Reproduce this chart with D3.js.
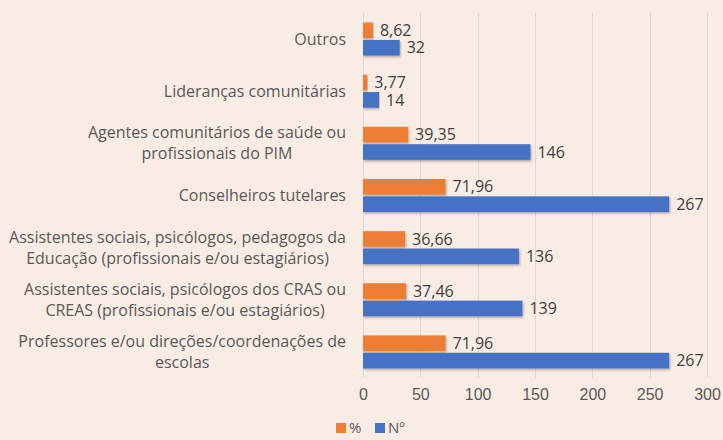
<!DOCTYPE html>
<html>
<head>
<meta charset="utf-8">
<script src="https://cdn.jsdelivr.net/npm/d3@7"></script>
<style>
    body { margin: 0; background: #f9ece4; }
    svg { display: block; font-family: "Open Sans", "Noto Sans", sans-serif; }
    .grid line { stroke: #e2d8d2; stroke-width: 1; }
    .axis text { fill: #595959; font-size: 16px; }
    .cat { fill: #595959; font-size: 16px; }
    .val { fill: #404040; font-size: 16px; }
</style>
</head>
<body>
<div class="barchart"></div>
<script>
// Categories (top to bottom) with their lines as wrapped in the original
const categories = [
    ["Outros"],
    ["Lideranças comunitárias"],
    ["Agentes comunitários de saúde ou", "profissionais do PIM"],
    ["Conselheiros tutelares"],
    ["Assistentes sociais, psicólogos, pedagogos da", "Educação (profissionais e/ou estagiários)"],
    ["Assistentes sociais, psicólogos dos CRAS ou", "CREAS (profissionais e/ou estagiários)"],
    ["Professores e/ou direções/coordenações de", "escolas"]
];
const pctValues = [8.62, 3.77, 39.35, 71.96, 36.66, 37.46, 71.96];
const numValues = [32, 14, 146, 267, 136, 139, 267];
const xTicks = [0, 50, 100, 150, 200, 250, 300];
const seriesNames = ["%", "Nº"];
const seriesColors = ["#ed7d31", "#4472c4"];

const width = 723, height = 440;
const margin = {top: 13, right: 16, bottom: 65, left: 363};

const svg = d3.select(".barchart")
    .append("svg")
    .attr("width", width)
    .attr("height", height);

// Slight shadow like the spreadsheet bars
const defs = svg.append("defs");
const shadow = defs.append("filter").attr("id", "shadow")
    .attr("x", "-5%").attr("y", "-20%").attr("width", "110%").attr("height", "160%");
shadow.append("feDropShadow")
    .attr("dx", 1).attr("dy", 1.5).attr("stdDeviation", 1.2)
    .attr("flood-color", "#000").attr("flood-opacity", 0.3);

const x = d3.scaleLinear()
    .domain([0, 300])
    .range([margin.left, 707]);

const y = d3.scaleBand()
    .domain(d3.range(categories.length))
    .range([margin.top, height - margin.bottom + 3]);

const sub = d3.scaleBand()
    .domain([0, 1])
    .range([0, y.bandwidth()])
    .paddingInner(0.1)
    .paddingOuter(0.55);

// Gridlines
svg.append("g")
    .attr("class", "grid")
    .selectAll("line")
    .data(xTicks)
    .enter().append("line")
    .attr("x1", d => Math.round(x(d)) + 0.5)
    .attr("x2", d => Math.round(x(d)) + 0.5)
    .attr("y1", y.range()[0])
    .attr("y2", y.range()[1]);

// X axis tick labels
const xAxis = svg.append("g")
    .attr("class", "axis")
    .attr("transform", `translate(0,${y.range()[1] + 3})`)
    .call(d3.axisBottom(x).tickValues(xTicks).tickSize(0).tickPadding(8).tickFormat(d3.format("d")));
xAxis.select(".domain").remove();
xAxis.selectAll("text").attr("font-family", null).attr("font-size", null);

// Bars
const rows = categories.map((c, i) => ({i: i, vals: [pctValues[i], numValues[i]]}));
const groups = svg.selectAll(".row")
    .data(rows)
    .enter().append("g")
    .attr("class", "row")
    .attr("transform", d => `translate(0,${y(d.i)})`);

groups.selectAll("rect")
    .data(d => d.vals.map((v, s) => ({v: v, s: s})))
    .enter().append("rect")
    .attr("x", x(0))
    .attr("y", d => sub(d.s))
    .attr("width", d => x(d.v) - x(0))
    .attr("height", sub.bandwidth())
    .attr("fill", d => seriesColors[d.s])
    .attr("filter", "url(#shadow)");

groups.selectAll(".val")
    .data(d => d.vals.map((v, s) => ({v: v, s: s})))
    .enter().append("text")
    .attr("class", "val")
    .attr("x", d => x(d.v) + 7)
    .attr("y", d => sub(d.s) + sub.bandwidth() / 2)
    .attr("dy", "0.35em")
    .text(d => d.s === 0 ? d.v.toFixed(2).replace(".", ",") : d.v);

// Category labels: block right aligned, lines centered within the block
const labelRight = 346;
const lineH = 21;
const catGroups = svg.selectAll(".catlabel")
    .data(categories)
    .enter().append("text")
    .attr("class", "cat")
    .attr("text-anchor", "middle");

catGroups.each(function(lines, i) {
    const t = d3.select(this);
    const cy = y(i) + y.bandwidth() / 2;
    const spans = lines.map((ln, k) => t.append("tspan")
        .attr("y", cy + (k - (lines.length - 1) / 2) * lineH)
        .attr("dy", "0.35em")
        .text(ln));
    const maxW = d3.max(spans, s => s.node().getComputedTextLength());
    spans.forEach(s => s.attr("x", labelRight - maxW / 2));
});

// Legend
const legend = svg.append("g")
    .attr("transform", `translate(336,${height - 7})`);
const legendX = [0, 39];
seriesNames.forEach((name, s) => {
    const g = legend.append("g").attr("transform", `translate(${legendX[s]},0)`);
    g.append("rect")
        .attr("x", 0).attr("y", -10)
        .attr("width", 10).attr("height", 10)
        .attr("fill", seriesColors[s]);
    g.append("text")
        .attr("class", "cat")
        .attr("x", 13).attr("y", 0)
        .style("font-size", "15px")
        .text(name);
});
</script>
</body>
</html>
